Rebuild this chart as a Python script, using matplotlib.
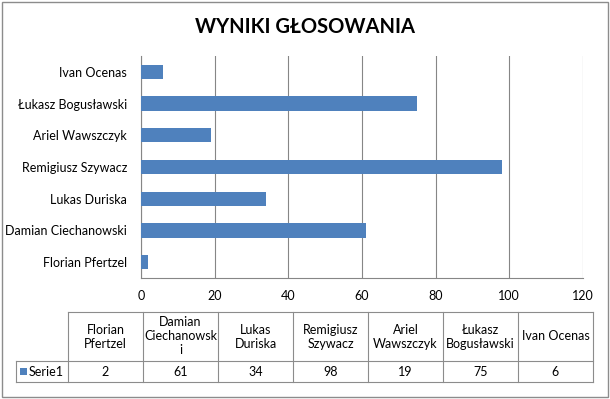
import matplotlib
matplotlib.use("Agg")
import matplotlib.pyplot as plt
from matplotlib.patches import Rectangle

plt.rcParams['font.family'] = ['Lato', 'DejaVu Sans']

names = ['Florian Pfertzel', 'Damian Ciechanowski', 'Lukas Duriska', 'Remigiusz Szywacz',
         'Ariel Wawszczyk', 'Łukasz Bogusławski', 'Ivan Ocenas']
table_heads = ['Florian\nPfertzel', 'Damian\nCiechanowsk\ni', 'Lukas\nDuriska', 'Remigiusz\nSzywacz',
               'Ariel\nWawszczyk', 'Łukasz\nBogusławski', 'Ivan Ocenas']
votes = [2, 61, 34, 98, 19, 75, 6]
series_name = 'Serie1'
title = 'WYNIKI GŁOSOWANIA'

W, H = 610, 399
bar_color = '#4F81BD'
grid_color = '#868686'
fs = 9

fig = plt.figure(figsize=(W / 100, H / 100), dpi=100)

# helper: pixel -> figure fraction
def fx(x):
    return x / W

def fy(y):
    return 1 - y / H

# outer frame
fig.patches.append(Rectangle((fx(2), fy(397)), fx(606), (395) / H, transform=fig.transFigure,
                             fill=False, edgecolor='#8c8c8c', linewidth=1))

fig.text(0.5, fy(27), title, ha='center', va='center', fontsize=14.5, fontweight='bold')

# main chart
ax = fig.add_axes([fx(141), fy(278), (583 - 141) / W, (278 - 56) / H])
ypos = range(len(names))
ax.barh(ypos, votes, height=0.45, color=bar_color, zorder=3)
ax.set_xlim(0, 120)
ax.set_ylim(-0.5, len(names) - 0.5)
ax.set_xticks(range(0, 121, 20))
ax.set_yticks(list(ypos))
ax.set_yticklabels(names)
ax.tick_params(axis='both', length=0, labelsize=fs, colors='#000000')
ax.tick_params(axis='y', pad=10)
ax.tick_params(axis='x', pad=9)
ax.grid(axis='x', color=grid_color, linewidth=0.8, zorder=0)
for s in ['top', 'right']:
    ax.spines[s].set_visible(False)
ax.spines['left'].set_color(grid_color)
ax.spines['bottom'].set_color(grid_color)
ax.spines['left'].set_linewidth(0.8)
ax.spines['bottom'].set_linewidth(0.8)

# data table
line_kw = dict(color='#8c8c8c', linewidth=0.8, transform=fig.transFigure)
col_edges = [68 + 75 * i for i in range(len(names) + 1)]
top, mid, bot = 312, 361, 382
left_lab = 16

fig.add_artist(plt.Line2D([fx(col_edges[0]), fx(col_edges[-1])], [fy(top), fy(top)], **line_kw))
fig.add_artist(plt.Line2D([fx(left_lab), fx(col_edges[-1])], [fy(mid), fy(mid)], **line_kw))
fig.add_artist(plt.Line2D([fx(left_lab), fx(col_edges[-1])], [fy(bot), fy(bot)], **line_kw))
fig.add_artist(plt.Line2D([fx(left_lab), fx(left_lab)], [fy(mid), fy(bot)], **line_kw))
for x in col_edges:
    fig.add_artist(plt.Line2D([fx(x), fx(x)], [fy(top), fy(bot)], **line_kw))

for i, (head, v) in enumerate(zip(table_heads, votes)):
    cx = (col_edges[i] + col_edges[i + 1]) / 2
    fig.text(fx(cx), fy((top + mid) / 2), head, ha='center', va='center', fontsize=fs,
             linespacing=1.2)
    fig.text(fx(cx), fy((mid + bot) / 2), str(v), ha='center', va='center', fontsize=fs)

fig.patches.append(Rectangle((fx(20), fy(375)), 7 / W, 7 / H, transform=fig.transFigure,
                             facecolor=bar_color, edgecolor='none'))
fig.text(fx(29), fy((mid + bot) / 2), series_name, ha='left', va='center', fontsize=fs)

fig.savefig('out.png', dpi=100)
